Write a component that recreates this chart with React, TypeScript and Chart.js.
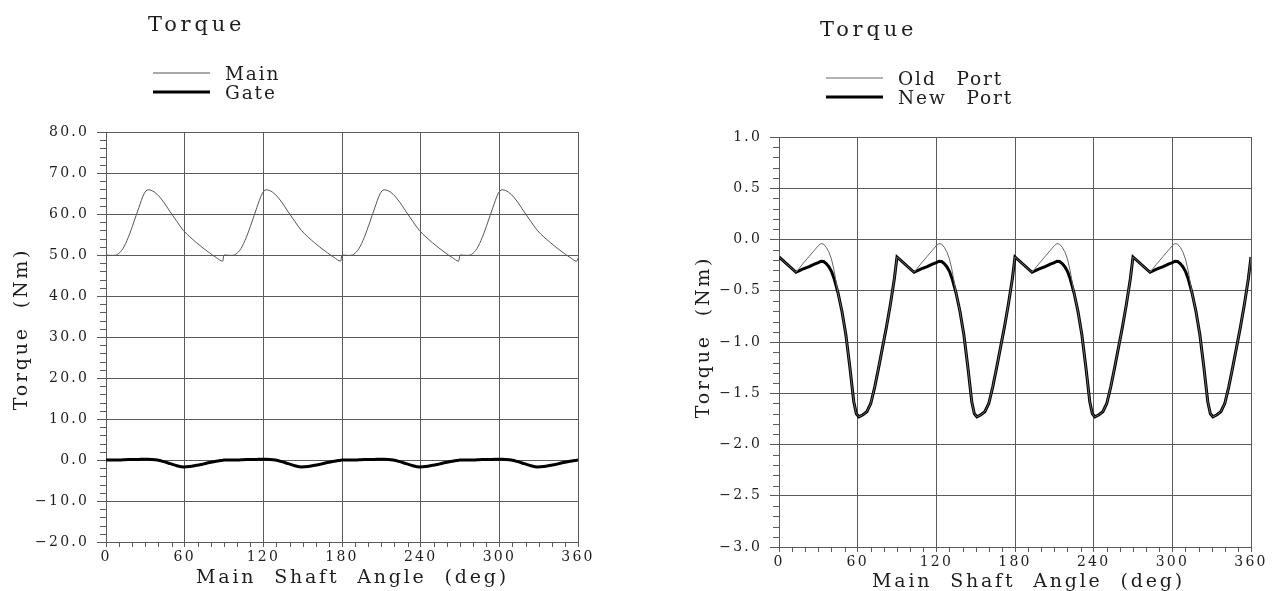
import React, { useEffect, useRef } from "react";
import { Chart, registerables } from "chart.js";

Chart.register(...registerables);

const FONT = "'DejaVu Serif', 'Liberation Serif', serif";
const GRID = "#5a5a5a";
const TEXT = "#1e1e1e";

// ---------- Left chart data (Main / Gate torque, Nm) ----------
const leftAngles = [
  0, 5, 9, 13, 17, 21, 25, 29, 32, 35, 39, 44, 49, 54, 59, 64, 69, 74, 79, 84, 89,
  90, 95, 99, 103, 107, 111, 115, 119, 122, 125, 129, 134, 139, 144, 149, 154, 159, 164, 169, 174, 179,
  180, 185, 189, 193, 197, 201, 205, 209, 212, 215, 219, 224, 229, 234, 239, 244, 249, 254, 259, 264, 269,
  270, 275, 279, 283, 287, 291, 295, 299, 302, 305, 309, 314, 319, 324, 329, 334, 339, 344, 349, 354, 359,
  360,
];
const mainValues = [
  50.0, 49.9, 50.2, 51.6, 54.3, 57.8, 61.5, 64.9, 65.9, 65.7, 64.8, 62.9, 60.5, 58.2, 56.0, 54.4, 53.0, 51.7, 50.5, 49.4, 48.5,
  50.0, 49.9, 50.2, 51.6, 54.3, 57.8, 61.5, 64.9, 65.9, 65.7, 64.8, 62.9, 60.5, 58.2, 56.0, 54.4, 53.0, 51.7, 50.5, 49.4, 48.5,
  50.0, 49.9, 50.2, 51.6, 54.3, 57.8, 61.5, 64.9, 65.9, 65.7, 64.8, 62.9, 60.5, 58.2, 56.0, 54.4, 53.0, 51.7, 50.5, 49.4, 48.5,
  50.0, 49.9, 50.2, 51.6, 54.3, 57.8, 61.5, 64.9, 65.9, 65.7, 64.8, 62.9, 60.5, 58.2, 56.0, 54.4, 53.0, 51.7, 50.5, 49.4, 48.5,
  49.2,
];
const gateValues = [
  0.0, 0.0, 0.0, 0.05, 0.1, 0.1, 0.15, 0.2, 0.2, 0.15, 0.0, -0.4, -0.9, -1.4, -1.7, -1.6, -1.3, -1.0, -0.6, -0.3, -0.05,
  0.0, 0.0, 0.0, 0.05, 0.1, 0.1, 0.15, 0.2, 0.2, 0.15, 0.0, -0.4, -0.9, -1.4, -1.7, -1.6, -1.3, -1.0, -0.6, -0.3, -0.05,
  0.0, 0.0, 0.0, 0.05, 0.1, 0.1, 0.15, 0.2, 0.2, 0.15, 0.0, -0.4, -0.9, -1.4, -1.7, -1.6, -1.3, -1.0, -0.6, -0.3, -0.05,
  0.0, 0.0, 0.0, 0.05, 0.1, 0.1, 0.15, 0.2, 0.2, 0.15, 0.0, -0.4, -0.9, -1.4, -1.7, -1.6, -1.3, -1.0, -0.6, -0.3, -0.05,
  0.0,
];

// ---------- Right chart data (Old / New port torque, Nm) ----------
const rightAngles = [
  0, 13, 18, 23, 27, 30, 32, 34, 36, 38, 40, 42, 45, 48, 51, 54, 57, 59, 61, 64, 67, 70, 73, 76, 79, 82, 85, 88,
  90, 103, 108, 113, 117, 120, 122, 124, 126, 128, 130, 132, 135, 138, 141, 144, 147, 149, 151, 154, 157, 160, 163, 166, 169, 172, 175, 178,
  180, 193, 198, 203, 207, 210, 212, 214, 216, 218, 220, 222, 225, 228, 231, 234, 237, 239, 241, 244, 247, 250, 253, 256, 259, 262, 265, 268,
  270, 283, 288, 293, 297, 300, 302, 304, 306, 308, 310, 312, 315, 318, 321, 324, 327, 329, 331, 334, 337, 340, 343, 346, 349, 352, 355, 358,
  360,
];
const oldPortValues = [
  -0.17, -0.32, -0.24, -0.165, -0.105, -0.06, -0.04, -0.045, -0.075, -0.12, -0.19, -0.3, -0.52, -0.7, -0.93, -1.24, -1.58, -1.7, -1.73, -1.71, -1.68, -1.6, -1.44, -1.25, -1.05, -0.85, -0.63, -0.38,
  -0.17, -0.32, -0.24, -0.165, -0.105, -0.06, -0.04, -0.045, -0.075, -0.12, -0.19, -0.3, -0.52, -0.7, -0.93, -1.24, -1.58, -1.7, -1.73, -1.71, -1.68, -1.6, -1.44, -1.25, -1.05, -0.85, -0.63, -0.38,
  -0.17, -0.32, -0.24, -0.165, -0.105, -0.06, -0.04, -0.045, -0.075, -0.12, -0.19, -0.3, -0.52, -0.7, -0.93, -1.24, -1.58, -1.7, -1.73, -1.71, -1.68, -1.6, -1.44, -1.25, -1.05, -0.85, -0.63, -0.38,
  -0.17, -0.32, -0.24, -0.165, -0.105, -0.06, -0.04, -0.045, -0.075, -0.12, -0.19, -0.3, -0.52, -0.7, -0.93, -1.24, -1.58, -1.7, -1.73, -1.71, -1.68, -1.6, -1.44, -1.25, -1.05, -0.85, -0.63, -0.38,
  -0.17,
];
const newPortValues = [
  -0.17, -0.32, -0.29, -0.265, -0.24, -0.225, -0.212, -0.215, -0.235, -0.265, -0.31, -0.38, -0.52, -0.7, -0.93, -1.24, -1.58, -1.7, -1.73, -1.71, -1.68, -1.6, -1.44, -1.25, -1.05, -0.85, -0.63, -0.38,
  -0.17, -0.32, -0.29, -0.265, -0.24, -0.225, -0.212, -0.215, -0.235, -0.265, -0.31, -0.38, -0.52, -0.7, -0.93, -1.24, -1.58, -1.7, -1.73, -1.71, -1.68, -1.6, -1.44, -1.25, -1.05, -0.85, -0.63, -0.38,
  -0.17, -0.32, -0.29, -0.265, -0.24, -0.225, -0.212, -0.215, -0.235, -0.265, -0.31, -0.38, -0.52, -0.7, -0.93, -1.24, -1.58, -1.7, -1.73, -1.71, -1.68, -1.6, -1.44, -1.25, -1.05, -0.85, -0.63, -0.38,
  -0.17, -0.32, -0.29, -0.265, -0.24, -0.225, -0.212, -0.215, -0.235, -0.265, -0.31, -0.38, -0.52, -0.7, -0.93, -1.24, -1.58, -1.7, -1.73, -1.71, -1.68, -1.6, -1.44, -1.25, -1.05, -0.85, -0.63, -0.38,
  -0.17,
];

const chartTitle = "Torque";
const xAxisTitle = "Main Shaft Angle (deg)";
const yAxisTitle = "Torque (Nm)";
const leftLegend = ["Main", "Gate"];
const rightLegend = ["Old Port", "New Port"];

const W = 637;
const H = 591;

type Spec = {
  angles: number[];
  series: { label: string; values: number[]; color: string; width: number; smooth: boolean }[];
  yMin: number;
  yMax: number;
  yStep: number;
  yMinor: number;
  area: { left: number; right: number; top: number; bottom: number };
  titlePos: [number, number];
  legendX: number;
  legendY: [number, number];
  xTitle: [number, number];
  yTitle: [number, number];
};

function fmtY(v: number) {
  const s = (Math.abs(v) < 1e-9 ? 0 : v).toFixed(1);
  return s.replace("-", "\u2212");
}

function setText(ctx: any, size: number, ls: number, ws: number) {
  ctx.font = `${size}px ${FONT}`;
  ctx.letterSpacing = `${ls}px`;
  ctx.wordSpacing = `${ws}px`;
}

function makeChart(canvas: HTMLCanvasElement, spec: Spec) {
  const xMinor = 10;
  const decor = {
    id: "decor",
    beforeDraw(chart: any) {
      const ctx = chart.ctx as any;
      ctx.letterSpacing = "2.2px";
      ctx.wordSpacing = "0px";
    },
    afterDraw(chart: any) {
      const ctx = chart.ctx as any;
      const xs = chart.scales.x;
      const ys = chart.scales.y;
      ctx.save();
      // minor ticks
      ctx.strokeStyle = GRID;
      ctx.lineWidth = 1;
      ctx.beginPath();
      const nx = Math.round(360 / xMinor);
      for (let i = 0; i <= nx; i++) {
        if (i % 6 === 0) continue;
        const px = Math.round(xs.getPixelForValue(i * xMinor)) + 0.5;
        ctx.moveTo(px, ys.bottom);
        ctx.lineTo(px, ys.bottom + 5);
      }
      const ny = Math.round((spec.yMax - spec.yMin) / spec.yMinor);
      const ratio = Math.round(spec.yStep / spec.yMinor);
      for (let i = 0; i <= ny; i++) {
        if (i % ratio === 0) continue;
        const py = Math.round(ys.getPixelForValue(spec.yMin + i * spec.yMinor)) + 0.5;
        ctx.moveTo(xs.left - 6, py);
        ctx.lineTo(xs.left, py);
      }
      ctx.stroke();

      ctx.fillStyle = TEXT;
      ctx.textAlign = "left";
      ctx.textBaseline = "alphabetic";
      // title
      setText(ctx, 21, 3.8, 0);
      ctx.fillText(chartTitle, spec.titlePos[0], spec.titlePos[1]);
      // legend
      const lx = spec.legendX;
      spec.series.forEach((s, i) => {
        const ly = spec.legendY[i];
        ctx.strokeStyle = s.color;
        ctx.lineWidth = s.width;
        ctx.beginPath();
        ctx.moveTo(lx, ly - 7);
        ctx.lineTo(lx + 57, ly - 7);
        ctx.stroke();
        ctx.fillStyle = TEXT;
        setText(ctx, 18.5, 1.9, 12);
        ctx.fillText(s.label, lx + 72, ly);
      });
      // x axis title
      setText(ctx, 19, 2.8, 9);
      ctx.fillText(xAxisTitle, spec.xTitle[0], spec.xTitle[1]);
      // y axis title
      ctx.translate(spec.yTitle[0], spec.yTitle[1]);
      ctx.rotate(-Math.PI / 2);
      ctx.textAlign = "center";
      ctx.fillText(yAxisTitle, 0, 0);
      ctx.restore();
    },
  };

  return new Chart(canvas, {
    type: "line",
    data: {
      datasets: spec.series.map((s) => ({
        label: s.label,
        data: spec.angles.map((a, i) => ({ x: a, y: s.values[i] })),
        borderColor: s.color,
        borderWidth: s.width,
        pointRadius: 0,
        fill: false,
        tension: s.smooth ? 0.4 : 0,
        cubicInterpolationMode: s.smooth ? "monotone" : "default",
      })),
    },
    options: {
      animation: false,
      responsive: false,
      devicePixelRatio: 1,
      layout: {
        padding: { left: 0, right: W - spec.area.right, top: spec.area.top, bottom: 0 },
      },
      plugins: { legend: { display: false }, title: { display: false }, tooltip: { enabled: false } },
      scales: {
        x: {
          type: "linear",
          min: 0,
          max: 360,
          afterFit: (scale: any) => {
            scale.height = H - spec.area.bottom;
          },
          ticks: {
            stepSize: 60,
            color: TEXT,
            font: { family: FONT, size: 14 },
            padding: 2,
            maxRotation: 0,
            callback: (v: any) => String(v),
          },
          grid: { color: GRID, lineWidth: 1, drawTicks: true, tickLength: 5, tickColor: GRID },
          border: { display: true, color: GRID, width: 1 },
        },
        y: {
          type: "linear",
          min: spec.yMin,
          max: spec.yMax,
          afterFit: (scale: any) => {
            scale.width = spec.area.left;
          },
          ticks: {
            stepSize: spec.yStep,
            color: TEXT,
            font: { family: FONT, size: 14 },
            padding: 8,
            callback: (v: any) => fmtY(Number(v)),
          },
          grid: { color: GRID, lineWidth: 1, drawTicks: true, tickLength: 9, tickColor: GRID },
          border: { display: true, color: GRID, width: 1 },
        },
      },
    } as any,
    plugins: [decor],
  });
}

const leftSpec: Spec = {
  angles: leftAngles,
  series: [
    { label: leftLegend[0], values: mainValues, color: "#555555", width: 1, smooth: true },
    { label: leftLegend[1], values: gateValues, color: "#000000", width: 3, smooth: true },
  ],
  yMin: -20,
  yMax: 80,
  yStep: 10,
  yMinor: 2,
  area: { left: 106, right: 578, top: 132, bottom: 542 },
  titlePos: [148, 31],
  legendX: 153,
  legendY: [80, 99],
  xTitle: [196, 583],
  yTitle: [27, 329],
};

const rightSpec: Spec = {
  angles: rightAngles,
  series: [
    { label: rightLegend[0], values: oldPortValues, color: "#666666", width: 1, smooth: false },
    { label: rightLegend[1], values: newPortValues, color: "#000000", width: 3, smooth: false },
  ],
  yMin: -3,
  yMax: 1,
  yStep: 0.5,
  yMinor: 0.1,
  area: { left: 142, right: 614, top: 137, bottom: 547 },
  titlePos: [183, 36],
  legendX: 189,
  legendY: [85, 104],
  xTitle: [235, 587],
  yTitle: [72, 337],
};

function Panel({ spec }: { spec: Spec }) {
  const ref = useRef<HTMLCanvasElement | null>(null);
  useEffect(() => {
    if (!ref.current) return;
    const chart = makeChart(ref.current, spec);
    return () => chart.destroy();
  }, [spec]);
  return (
    <div style={{ width: W, height: H, position: "relative" }}>
      <canvas ref={ref} width={W} height={H} style={{ display: "block", width: W, height: H }} />
    </div>
  );
}

export default function App() {
  return (
    <div
      style={{
        position: "absolute",
        top: 0,
        left: 0,
        width: 1274,
        height: 591,
        display: "flex",
        background: "#ffffff",
        overflow: "hidden",
      }}
    >
      <Panel spec={leftSpec} />
      <Panel spec={rightSpec} />
    </div>
  );
}
